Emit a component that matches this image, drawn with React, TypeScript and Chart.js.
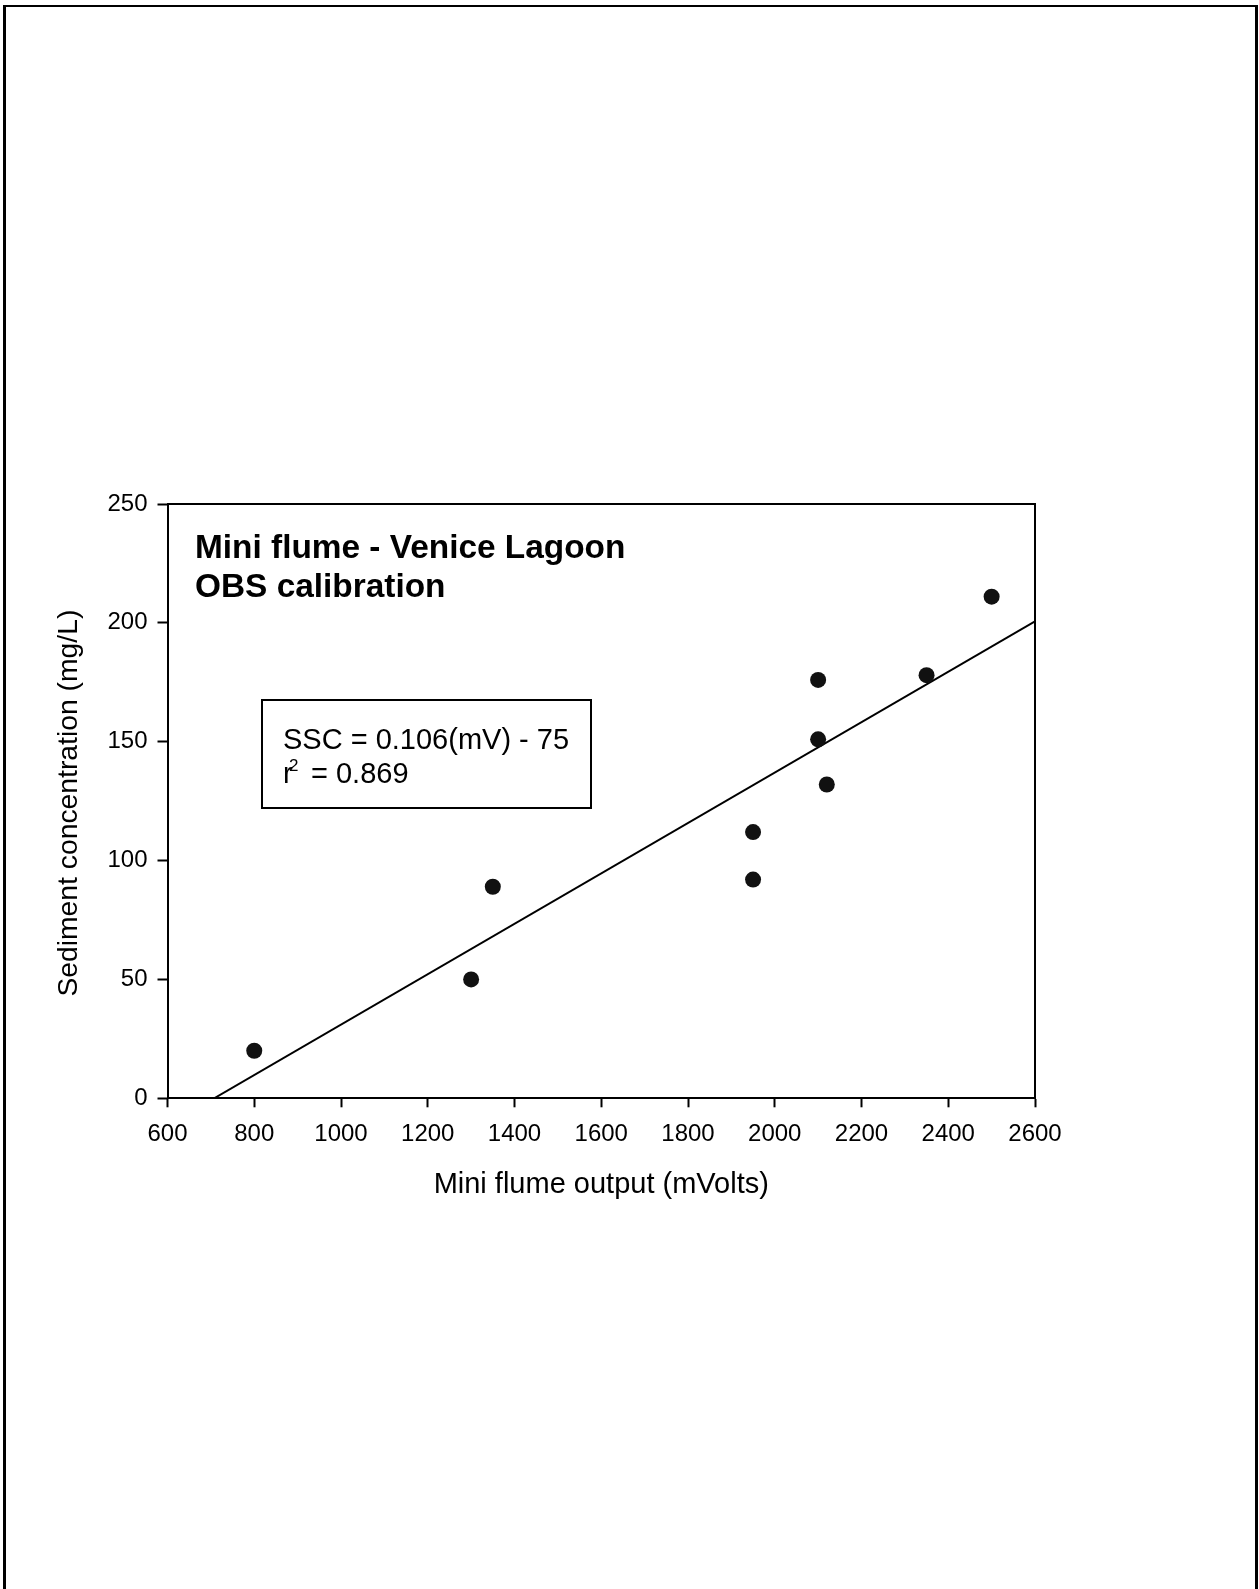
import React, { useEffect, useRef } from 'react';
import { Chart, registerables } from 'chart.js';

Chart.register(...registerables);

// ---- data ----
const xValues = [800, 1300, 1350, 1950, 1950, 2100, 2100, 2120, 2350, 2500];
const yValues = [20, 50, 89, 112, 92, 176, 151, 132, 178, 211];
const fitSlope = 0.106;
const fitIntercept = -75;
const xTicks = [600, 800, 1000, 1200, 1400, 1600, 1800, 2000, 2200, 2400, 2600];
const yTicks = [0, 50, 100, 150, 200, 250];
const titleLines = ['Mini flume - Venice Lagoon', 'OBS calibration'];
const equationText = 'SSC = 0.106(mV) - 75';
const r2Text = '0.869';
const xAxisTitle = 'Mini flume output (mVolts)';
const yAxisTitle = 'Sediment concentration (mg/L)';

const W = 1259;
const H = 1589;
const FONT = '"Liberation Sans", Arial, Helvetica, sans-serif';

const decorPlugin = {
  id: 'decor',
  afterDraw(chart: any) {
    const ctx = chart.ctx as CanvasRenderingContext2D;
    const ca = chart.chartArea;
    ctx.save();
    ctx.strokeStyle = '#000';
    ctx.fillStyle = '#000';

    // top & right frame of plot
    ctx.lineWidth = 2;
    ctx.beginPath();
    ctx.moveTo(ca.left, ca.top);
    ctx.lineTo(ca.right, ca.top);
    ctx.lineTo(ca.right, ca.bottom);
    ctx.stroke();

    // page frame
    ctx.lineWidth = 3;
    ctx.beginPath();
    ctx.moveTo(4.5, H);
    ctx.lineTo(4.5, 6);
    ctx.stroke();
    ctx.beginPath();
    ctx.moveTo(1256.5, 6);
    ctx.lineTo(1256.5, H);
    ctx.stroke();
    ctx.lineWidth = 2;
    ctx.beginPath();
    ctx.moveTo(3, 6);
    ctx.lineTo(1258, 6);
    ctx.stroke();

    // title lines
    ctx.font = `bold 33.4px ${FONT}`;
    ctx.textAlign = 'left';
    ctx.textBaseline = 'alphabetic';
    ctx.fillText(titleLines[0], 195, 558);
    ctx.fillText(titleLines[1], 195, 597);

    // equation box
    ctx.lineWidth = 2;
    ctx.strokeRect(262, 700, 329, 108);
    ctx.font = `29px ${FONT}`;
    ctx.fillText(equationText, 283, 749);
    ctx.fillText('r', 283, 783);
    ctx.font = `17px ${FONT}`;
    ctx.fillText('2', 289, 771);
    ctx.font = `29px ${FONT}`;
    ctx.fillText('= ' + r2Text, 311, 783);

    // axis titles
    ctx.font = `29px ${FONT}`;
    ctx.textAlign = 'center';
    ctx.textBaseline = 'middle';
    ctx.fillText(xAxisTitle, (ca.left + ca.right) / 2, 1185);
    ctx.save();
    ctx.font = `28.3px ${FONT}`;
    ctx.translate(69, (ca.top + ca.bottom) / 2 + 2);
    ctx.rotate(-Math.PI / 2);
    ctx.fillText(yAxisTitle, 0, 0);
    ctx.restore();

    ctx.restore();
  },
};

export default function App() {
  const canvasRef = useRef<HTMLCanvasElement | null>(null);

  useEffect(() => {
    const canvas = canvasRef.current;
    if (!canvas) return;
    const fitX0 = -fitIntercept / fitSlope;
    const fitX1 = xTicks[xTicks.length - 1];
    const points = xValues.map((x, i) => ({ x, y: yValues[i] }));

    const chart = new Chart(canvas, {
      type: 'scatter',
      data: {
        datasets: [
          {
            type: 'scatter',
            data: points,
            backgroundColor: '#111',
            borderColor: '#111',
            borderWidth: 0,
            pointRadius: 8,
            order: 0,
          } as any,
          {
            type: 'line',
            data: [
              { x: fitX0, y: 0 },
              { x: fitX1, y: fitSlope * fitX1 + fitIntercept },
            ],
            borderColor: '#000',
            borderWidth: 2,
            pointRadius: 0,
            fill: false,
            tension: 0,
            order: 1,
          } as any,
        ],
      },
      options: {
        responsive: false,
        animation: false,
        devicePixelRatio: 1,
        layout: { padding: { top: 504, right: 224, left: 0, bottom: 0 } },
        plugins: {
          legend: { display: false },
          tooltip: { enabled: false },
          title: { display: false },
        },
        scales: {
          x: {
            type: 'linear',
            min: xTicks[0],
            max: xTicks[xTicks.length - 1],
            afterBuildTicks: (scale: any) => {
              scale.ticks = xTicks.map((v) => ({ value: v }));
            },
            afterFit: (scale: any) => {
              scale.height = H - 1098.3;
            },
            ticks: {
              color: '#000',
              font: { family: FONT, size: 24 },
              padding: 13,
              autoSkip: false,
              maxRotation: 0,
              callback: (v: any) => String(v),
            },
            grid: {
              display: true,
              drawOnChartArea: false,
              drawTicks: true,
              tickLength: 9,
              color: '#000',
              tickWidth: 2,
            },
            border: { display: true, color: '#000', width: 2 },
          },
          y: {
            type: 'linear',
            min: yTicks[0],
            max: yTicks[yTicks.length - 1],
            afterBuildTicks: (scale: any) => {
              scale.ticks = yTicks.map((v) => ({ value: v }));
            },
            afterFit: (scale: any) => {
              scale.width = 167.5;
            },
            ticks: {
              color: '#000',
              font: { family: FONT, size: 24 },
              padding: 10,
              callback: (v: any) => String(v),
            },
            grid: {
              display: true,
              drawOnChartArea: false,
              drawTicks: true,
              tickLength: 10,
              color: '#000',
              tickWidth: 2,
            },
            border: { display: true, color: '#000', width: 2 },
          },
        },
      },
      plugins: [decorPlugin],
    } as any);

    return () => {
      chart.destroy();
    };
  }, []);

  return (
    <div style={{ position: 'absolute', left: 0, top: 0, width: W, height: H, background: '#fff' }}>
      <canvas ref={canvasRef} width={W} height={H} style={{ display: 'block', width: W, height: H }} />
    </div>
  );
}
